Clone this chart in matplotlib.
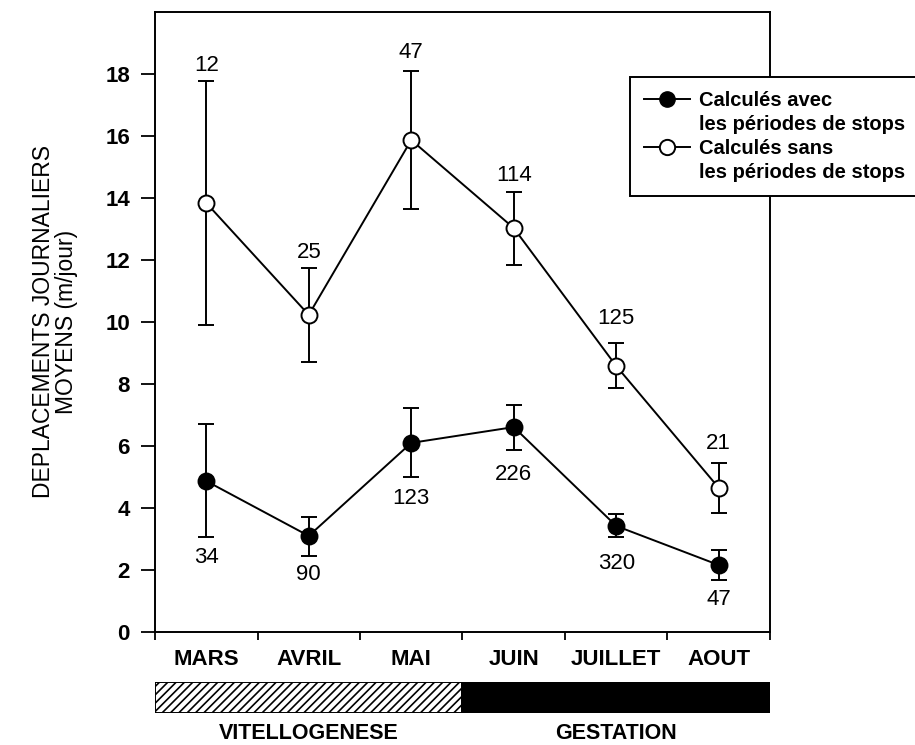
import numpy as np
import matplotlib
matplotlib.use('Agg')
import matplotlib.pyplot as plt
from matplotlib.lines import Line2D

plt.rcParams['font.family'] = ['Liberation Sans', 'DejaVu Sans']
plt.rcParams['hatch.linewidth'] = 1.2

# data
months = ['MARS', 'AVRIL', 'MAI', 'JUIN', 'JUILLET', 'AOUT']

avec_mean = [4.87, 3.10, 6.10, 6.61, 3.42, 2.16]
avec_low = [3.06, 2.45, 5.00, 5.87, 3.06, 1.68]
avec_high = [6.71, 3.71, 7.23, 7.32, 3.80, 2.65]
avec_n = ['34', '90', '123', '226', '320', '47']

sans_mean = [13.84, 10.23, 15.87, 13.03, 8.58, 4.65]
sans_low = [9.90, 8.71, 13.64, 11.84, 7.87, 3.84]
sans_high = [17.77, 11.74, 18.10, 14.19, 9.32, 5.45]
sans_n = ['12', '25', '47', '114', '125', '21']

phases = ['VITELLOGENESE', 'GESTATION']
phase_months = [3, 3]

# label offsets in points (layout only)
avec_off = [-55, -28, -40, -34, -27, -25]
sans_off = [99, 45, 63, 38, 34, 32]

fig = plt.figure(figsize=(9.15, 7.45), dpi=100)
ax = fig.add_axes([155/915, 1-632/745, 615/915, 620/745])

x = np.arange(len(months))


def draw(mean, low, high, face):
    mean = np.array(mean)
    yerr = [mean - np.array(low), np.array(high) - mean]
    ax.errorbar(x, mean, yerr=yerr, color='black', lw=1.4, elinewidth=1.4,
                capsize=6, capthick=1.4, marker='o', ms=11.5,
                mfc=face, mec='black', mew=1.4, zorder=3)


draw(avec_mean, avec_low, avec_high, 'black')
draw(sans_mean, sans_low, sans_high, 'white')

for i in range(len(months)):
    ax.annotate(avec_n[i], (x[i], avec_mean[i]), xytext=(0, avec_off[i]),
                textcoords='offset points', ha='center', va='center', fontsize=16)
    ax.annotate(sans_n[i], (x[i], sans_mean[i]), xytext=(0, sans_off[i]),
                textcoords='offset points', ha='center', va='center', fontsize=16)

ax.set_xlim(-0.5, len(months) - 0.5)
ax.set_ylim(0, 20)
ax.set_yticks(np.arange(0, 19, 2))
ax.tick_params(axis='y', direction='out', length=10, width=1.3, labelsize=16, pad=8)
for t in ax.get_yticklabels():
    t.set_fontweight('bold')

ax.set_xticks(np.arange(-0.5, len(months), 1))
ax.set_xticklabels([])
ax.set_xticks(x, minor=True)
ax.set_xticklabels(months, minor=True, fontsize=16, fontweight='bold')
ax.tick_params(axis='x', which='major', direction='out', length=6, width=1.3)
ax.tick_params(axis='x', which='minor', length=0, pad=12)

for s in ax.spines.values():
    s.set_linewidth(1.4)

ax.set_ylabel('DEPLACEMENTS JOURNALIERS\nMOYENS (m/jour)', fontsize=16.5, linespacing=1.0)
ax.yaxis.set_label_coords(-0.126, 0.5)

handles = [Line2D([], [], color='black', lw=1.4, marker='o', ms=11, mfc='black', mec='black'),
           Line2D([], [], color='none'),
           Line2D([], [], color='black', lw=1.4, marker='o', ms=11, mfc='white', mec='black', mew=1.4),
           Line2D([], [], color='none')]
labels = ['Calculés avec', 'les périodes de stops', 'Calculés sans', 'les périodes de stops']
leg = fig.legend(handles, labels, loc='upper left', bbox_to_anchor=(630/915, 1-77/745),
                 frameon=True, fancybox=False, edgecolor='black', framealpha=1,
                 prop={'weight': 'bold', 'size': 14.5}, labelspacing=0.25,
                 handlelength=2.3, handletextpad=0.45, borderpad=0.7, borderaxespad=0)
leg.get_frame().set_linewidth(1.4)

# phase bar below the axis
bx = fig.add_axes([155/915, 1-713/745, 615/915, 31/745])
start = -0.5
for name, n, i in zip(phases, phase_months, range(len(phases))):
    if i == 0:
        bx.barh(0, n, left=start, height=1, color='white', edgecolor='black',
                hatch='////', lw=1.4)
    else:
        bx.barh(0, n, left=start, height=1, color='black', edgecolor='black', lw=1.4)
    bx.text(start + n / 2, -1.15, name, ha='center', va='center', fontsize=15.5,
            fontweight='bold', clip_on=False)
    start += n
bx.set_xlim(-0.5, len(months) - 0.5)
bx.set_ylim(-0.5, 0.5)
bx.axis('off')

fig.savefig('out.png', dpi=100)
